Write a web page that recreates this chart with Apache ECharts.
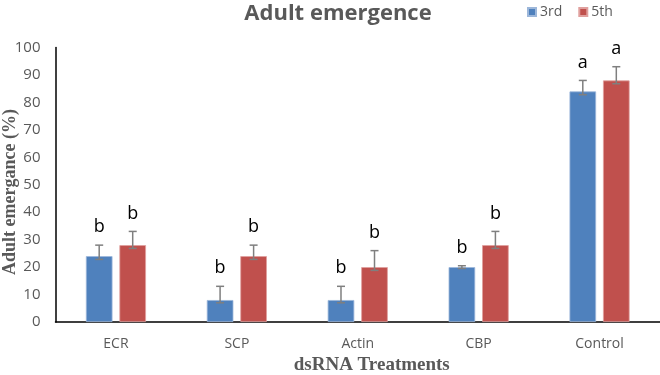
<!DOCTYPE html>
<html><head><meta charset="utf-8">
<script src="https://cdn.jsdelivr.net/npm/echarts@6/dist/echarts.min.js"></script>
<style>html,body{margin:0;padding:0;background:#fff}#c{width:660px;height:375px}</style>
</head><body><div id="c"></div>
<script>
var categories = ['ECR', 'SCP', 'Actin', 'CBP', 'Control'];
var seriesNames = ['3rd', '5th'];
var values3rd = [24, 8, 8, 20, 84];
var values5th = [28, 24, 20, 28, 88];
var errUp3rd = [4, 5, 5, 0.5, 4];
var errUp5th = [5, 4, 6, 5, 5];
var errDown3rd = [1.2, 1, 1, 0.5, 1.2];
var errDown5th = [1.2, 1.2, 1.2, 1.2, 1.2];
var letters3rd = ['b', 'b', 'b', 'b', 'a'];
var letters5th = ['b', 'b', 'b', 'b', 'a'];
var yTicks = [0, 10, 20, 30, 40, 50, 60, 70, 80, 90, 100];
var yAxisTitle = 'Adult emergance (%)';

var colors = ['#4F81BD', '#C0504D'];
var gray = '#595959';

function errData(vals, up, down, letters) {
  return vals.map(function (v, i) { return [i, v - down[i], v + up[i], letters[i]]; });
}

function makeErrRender(sign) {
  return function (params, api) {
    var idx = api.value(0);
    var lo = api.coord([idx, api.value(1)]);
    var hi = api.coord([idx, api.value(2)]);
    var bandW = api.size([1, 0])[0];
    var barW = bandW * 0.22;
    var gap = barW * 0.26;
    var x = lo[0] + sign * (barW + gap) / 2;
    var capHalf = 4;
    var st = { stroke: '#7F7F7F', lineWidth: 1.5 };
    return {
      type: 'group',
      children: [
        { type: 'line', shape: { x1: x, y1: lo[1], x2: x, y2: hi[1] }, style: st },
        { type: 'line', shape: { x1: x - capHalf, y1: hi[1], x2: x + capHalf, y2: hi[1] }, style: st },
        { type: 'line', shape: { x1: x - capHalf, y1: lo[1], x2: x + capHalf, y2: lo[1] }, style: st },
        { type: 'text', style: { text: api.value(3), x: x, y: hi[1] - 9, align: 'center', verticalAlign: 'bottom',
            fill: '#000', font: '18px "Open Sans", sans-serif' } }
      ]
    };
  };
}

var chart = echarts.init(document.getElementById('c'), null, { renderer: 'canvas' });
chart.setOption({
  animation: false,
  color: colors,
  title: {
    text: 'Adult emergence', left: 333, top: -2, textAlign: 'center',
    textStyle: { fontFamily: '"Open Sans", sans-serif', fontWeight: 'bold', fontSize: 22, color: gray }
  },
  legend: {
    data: seriesNames, left: 522, top: 0, itemWidth: 8, itemHeight: 8, itemGap: 16,
    icon: 'rect', textStyle: { fontFamily: '"Open Sans", sans-serif', fontSize: 14, color: gray, padding: [0, 0, 0, -1] }
  },
  graphic: [{
    type: 'text', x: 10, y: 192, rotation: Math.PI / 2,
    style: { text: yAxisTitle, align: 'center', verticalAlign: 'middle', fill: gray,
      font: 'bold 18px "Liberation Serif", "DejaVu Serif", serif' }
  }],
  grid: { left: 55.5, right: 0, top: 47.5, bottom: 53, containLabel: false, outerBoundsMode: 'none' },
  xAxis: {
    type: 'category', data: categories,
    axisLine: { lineStyle: { color: '#000', width: 1.5 } },
    axisTick: { show: false },
    axisLabel: { color: gray, fontFamily: '"Open Sans", sans-serif', fontSize: 14, margin: 15 },
    name: 'dsRNA Treatments', nameLocation: 'middle', nameGap: 34, nameMoveOverlap: false,
    nameTextStyle: { fontFamily: '"Liberation Serif", "DejaVu Serif", serif', fontWeight: 'bold', fontSize: 19, color: gray, padding: [0, 0, 0, 28] }
  },
  yAxis: {
    type: 'value', min: yTicks[0], max: yTicks[yTicks.length - 1], interval: 10,
    axisLine: { show: true, lineStyle: { color: '#000', width: 1.5 } },
    axisTick: { show: false },
    splitLine: { show: false },
    axisLabel: { color: gray, fontFamily: '"Open Sans", sans-serif', fontSize: 15, margin: 15 }
  },
  series: [
    { name: seriesNames[0], type: 'bar', data: values3rd, barWidth: '22%', barGap: '26%',
      itemStyle: { color: colors[0], borderColor: '#9DB7DA', borderWidth: 0.8 } },
    { name: seriesNames[1], type: 'bar', data: values5th, barWidth: '22%', barGap: '26%',
      itemStyle: { color: colors[1], borderColor: '#E0A09E', borderWidth: 0.8 } },
    { type: 'custom', renderItem: makeErrRender(-1), data: errData(values3rd, errUp3rd, errDown3rd, letters3rd), z: 5,
      encode: { x: 0, y: [1, 2] } },
    { type: 'custom', renderItem: makeErrRender(1), data: errData(values5th, errUp5th, errDown5th, letters5th), z: 5,
      encode: { x: 0, y: [1, 2] } }
  ]
});
</script></body></html>
